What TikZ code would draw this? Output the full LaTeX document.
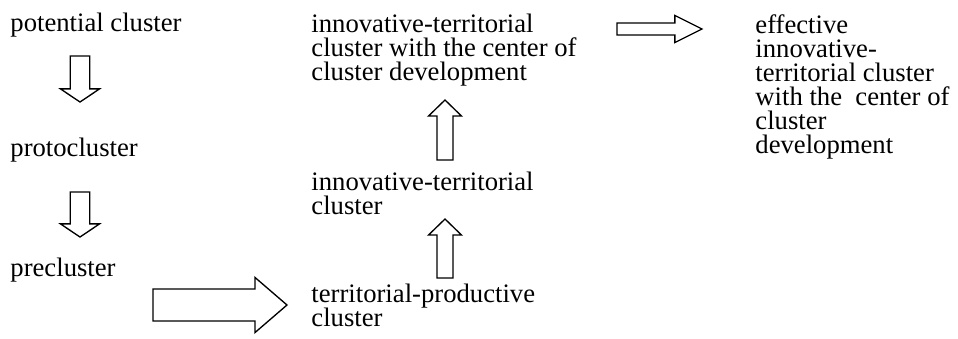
\documentclass[tikz,border=0pt]{standalone}
\usepackage{fontspec}
\setmainfont{Liberation Serif}
\usepackage{tikz}
\usetikzlibrary{calc}

% hollow block arrow: tail, tip, half shaft, half head, head length
\newcommand{\blockarrow}[5]{%
  \coordinate (hb) at ($(#2)!#5!(#1)$);
  \draw[arrowline] ($(#1)!#3!90:(#2)$) -- ($(hb)!#3!-90:(#1)$) -- ($(hb)!#4!-90:(#1)$)
    -- (#2) -- ($(hb)!#4!90:(#1)$) -- ($(hb)!#3!90:(#1)$) -- ($(#1)!#3!-90:(#2)$) -- cycle;
}

\begin{document}
\begin{tikzpicture}[
    x=0.45pt, y=-0.45pt,
    stage/.style={anchor=north west, inner sep=0pt, align=left,
      font={\fontsize{12pt}{10.8pt}\selectfont\lineskiplimit=-20pt}},
    arrowline/.style={draw=black, line width=0.6pt, fill=white}
]
    \useasboundingbox (0,0) rectangle (958,339);

    % Stages, left column
    \node[stage] (pot) at (10, 13) {potential cluster};
    \node[stage] (proto) at (10, 138) {protocluster};
    \node[stage] (pre) at (10, 258) {precluster};

    % Stages, middle column
    \node[stage] (itcc) at (311, 14) {innovative-territorial\\cluster with the center of\\cluster development};
    \node[stage] (itc) at (311, 172) {innovative-territorial\\cluster};
    \node[stage] (tpc) at (311, 284) {territorial-productive\\cluster};

    % Stage, right column
    \node[stage] (eff) at (755, 14) {effective\\innovative-\\territorial cluster\\with the \ center of\\cluster\\development};

    % Arrow ends
    \coordinate (a1s) at (80, 56);   \coordinate (a1e) at (80, 102);
    \coordinate (a2s) at (80, 192);  \coordinate (a2e) at (80, 237);
    \coordinate (a3s) at (153, 305); \coordinate (a3e) at (287, 305);
    \coordinate (a4s) at (445, 278); \coordinate (a4e) at (445, 219);
    \coordinate (a5s) at (445, 160); \coordinate (a5e) at (445, 100);
    \coordinate (a6s) at (617, 29);  \coordinate (a6e) at (702, 29);

    % Arrows
    \blockarrow{a1s}{a1e}{4.4pt}{8.8pt}{5.9pt}
    \blockarrow{a2s}{a2e}{4.4pt}{8.8pt}{5.9pt}
    \blockarrow{a3s}{a3e}{7.2pt}{12.4pt}{14.4pt}
    \blockarrow{a4s}{a4e}{3.6pt}{7.4pt}{7.2pt}
    \blockarrow{a5s}{a5e}{3.6pt}{7.4pt}{7.2pt}
    \blockarrow{a6s}{a6e}{2.7pt}{6.1pt}{12.2pt}
\end{tikzpicture}
\end{document}
